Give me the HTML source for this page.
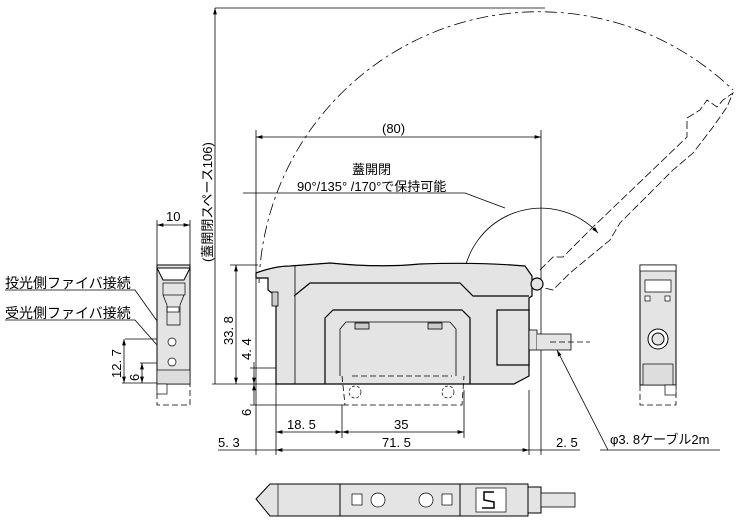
<!DOCTYPE html>
<html><head><meta charset="utf-8"><style>
html,body{margin:0;padding:0;background:#fff}
svg{display:block}
text{font-family:"Liberation Sans","Noto Sans CJK JP",sans-serif;fill:#000}
</style></head><body>
<svg width="743" height="525" viewBox="0 0 743 525" xmlns="http://www.w3.org/2000/svg">
<defs>
<marker id="a" viewBox="0 0 10 6" refX="10" refY="3" markerWidth="8" markerHeight="5" orient="auto-start-reverse"><path d="M0,0L10,3L0,6z" fill="#000"/></marker>
</defs>
<g fill="none" stroke="#000" stroke-width="0.8">
<path d="M259,283 A280,280 0 0 1 733,90" stroke-dasharray="12,4,3,4"/>
<path d="M540,270 L553,257 L563,257 L592,228 L687,137 L687,118 L700,110 L707,100 L717,107 L723,100 L733,93 L727,107 L713,127 L693,153 L673,170 L643,200 L620,223 L610,240 L570,273 L553,290 L540,287" stroke-dasharray="8,3"/>
<path d="M463,283 A78,78 0 0 1 598,233" marker-start="url(#a)" marker-end="url(#a)"/>
<path d="M243,193 L465,193 L505,208"/>
<line x1="215" y1="8" x2="545" y2="8"/>
<line x1="215" y1="8" x2="215" y2="384" marker-start="url(#a)"/>
<line x1="256" y1="137" x2="541" y2="137" marker-start="url(#a)" marker-end="url(#a)"/>
<line x1="256" y1="130" x2="256" y2="455"/>
<line x1="541" y1="130" x2="541" y2="455"/>
<line x1="236" y1="265" x2="236" y2="384" marker-start="url(#a)" marker-end="url(#a)"/>
<line x1="230" y1="265" x2="258" y2="265"/>
<line x1="212" y1="384" x2="276" y2="384"/>
<line x1="254" y1="362" x2="254" y2="384" marker-end="url(#a)"/>
<line x1="254" y1="384" x2="254" y2="405" marker-start="url(#a)"/>
<line x1="250" y1="368" x2="335" y2="368"/>
<line x1="250" y1="405" x2="345" y2="405"/>
<line x1="276" y1="384" x2="276" y2="455"/>
<line x1="342" y1="405" x2="342" y2="438"/>
<line x1="464" y1="390" x2="464" y2="438"/>
<line x1="529" y1="390" x2="529" y2="455"/>
<line x1="276" y1="432" x2="342" y2="432" marker-start="url(#a)" marker-end="url(#a)"/>
<line x1="342" y1="432" x2="464" y2="432" marker-start="url(#a)" marker-end="url(#a)"/>
<line x1="276" y1="450" x2="529" y2="450" marker-start="url(#a)" marker-end="url(#a)"/>
<line x1="218" y1="450" x2="276" y2="450"/>
<line x1="529" y1="450" x2="580" y2="450"/>
<line x1="600" y1="450" x2="720" y2="450"/>
<line x1="608" y1="450" x2="557" y2="350" marker-end="url(#a)"/>
<line x1="157" y1="225" x2="190" y2="225" marker-start="url(#a)" marker-end="url(#a)"/>
<line x1="157" y1="220" x2="157" y2="265"/><line x1="190" y1="220" x2="190" y2="265"/>
<line x1="125" y1="339" x2="170" y2="339"/><line x1="140" y1="363" x2="170" y2="363"/>
<line x1="122" y1="383" x2="157" y2="383"/>
<line x1="124" y1="339" x2="124" y2="383" marker-start="url(#a)" marker-end="url(#a)"/>
<line x1="142" y1="363" x2="142" y2="383" marker-start="url(#a)" marker-end="url(#a)"/>
<path d="M5,290 L135,290 L172,342"/>
<path d="M5,320 L135,320 L172,362"/>
</g>
<g stroke="#000" stroke-width="1.2">
<path d="M256,278 L256,273 Q275,266 290,266 L330,263 Q380,268 420,264 Q480,262 525,266 L532,276 L532,296 L529,298 L529,376 L514,384 L276,384 L276,296 L268,290 L268,278 Z" fill="#e4e4e4"/>
<path d="M294,296 L310,283 L460,283 L473,296 L529,296" fill="none"/>
<path d="M325,384 L325,318 L333,310 L462,310 L470,318 L470,384" fill="none"/>
<path d="M340,376 L340,329 L346,322 L450,322 L456,329 L456,376" fill="none" stroke-width="0.8"/>
<rect x="355" y="323" width="14" height="6" fill="#ccc" stroke-width="0.8"/>
<rect x="428" y="323" width="14" height="6" fill="#ccc" stroke-width="0.8"/>
<rect x="497" y="310" width="32" height="55" fill="#e4e4e4"/>
<rect x="529" y="330" width="8" height="20" fill="#e4e4e4" stroke-width="0.8"/>
<path d="M537,334 L571,334 L571,350 L537,350" fill="#e4e4e4" stroke-width="0.8"/>
<line x1="295" y1="266" x2="295" y2="384" stroke-width="0.8"/>
<rect x="272" y="292" width="6" height="14" fill="#ccc" stroke-width="0.8"/>
<circle cx="537" cy="284" r="6" fill="#e4e4e4"/>
</g>
<g fill="none" stroke="#000" stroke-width="0.8" stroke-dasharray="6,3">
<path d="M342,376 L345,405 L462,405 L464,376"/>
<line x1="352" y1="376" x2="452" y2="376"/>
<path d="M157,384 L157,405 L190,405 L190,384"/>
<path d="M640,385 L640,405 L676,405 L676,385"/>
<line x1="550" y1="342" x2="590" y2="342"/>
</g>
<circle cx="355" cy="392" r="6" fill="none" stroke="#000" stroke-width="0.7" stroke-dasharray="3,2"/>
<circle cx="448" cy="392" r="6" fill="none" stroke="#000" stroke-width="0.7" stroke-dasharray="3,2"/>
<g stroke="#000" stroke-width="1">
<rect x="157" y="265" width="33" height="119" fill="#e4e4e4"/>
<path d="M157,268 L190,268 L184,280 L163,280 Z" fill="#fff"/>
<rect x="163" y="283" width="22" height="12" fill="none" stroke-width="0.7"/>
<rect x="167" y="307" width="12" height="5" fill="#fff" stroke-width="0.7"/>
<path d="M163,295 L167,305 L167,325 L180,325 L180,305 L184,295" fill="none" stroke-width="0.7"/>
<circle cx="172" cy="342" r="4" fill="#fff" stroke-width="0.7"/>
<circle cx="172" cy="362" r="4" fill="#fff" stroke-width="0.7"/>
<rect x="157" y="370" width="33" height="14" fill="#ddd" stroke-width="0.7"/>
<rect x="157" y="384" width="10" height="10" fill="#fff" stroke-width="0.7"/>
</g>
<g stroke="#000" stroke-width="1">
<rect x="640" y="265" width="36" height="120" fill="#e4e4e4"/>
<rect x="640" y="265" width="36" height="6" fill="#fff" stroke-width="0.7"/>
<path d="M645,280 L671,280 L671,292 L645,292 Z" fill="#fff" stroke-width="0.7"/>
<rect x="645" y="296" width="5" height="5" fill="#fff" stroke-width="0.7"/>
<rect x="665" y="296" width="5" height="5" fill="#fff" stroke-width="0.7"/>
<circle cx="658" cy="339" r="10" fill="#fff"/>
<circle cx="658" cy="339" r="6" fill="#e4e4e4"/>
<rect x="643" y="364" width="30" height="21" fill="#ddd" stroke-width="0.7"/>
<rect x="665" y="385" width="11" height="10" fill="#fff" stroke-width="0.7"/>
</g>
<g stroke="#000" stroke-width="1">
<path d="M256,499 L270,484 L340,484 L340,516 L270,516 Z" fill="#e4e4e4"/>
<rect x="340" y="484" width="120" height="32" fill="#e4e4e4"/>
<rect x="460" y="484" width="68" height="32" fill="#e4e4e4"/>
<rect x="528" y="487" width="13" height="26" fill="#e4e4e4"/>
<rect x="541" y="493" width="34" height="14" fill="#e4e4e4" stroke-width="0.8"/>
<circle cx="378" cy="500" r="7" fill="#fff" stroke-width="0.7"/>
<circle cx="426" cy="500" r="7" fill="#fff" stroke-width="0.7"/>
<rect x="352" y="494" width="10" height="11" fill="#fff" stroke-width="0.7"/>
<rect x="442" y="494" width="10" height="11" fill="#fff" stroke-width="0.7"/>
<rect x="476" y="488" width="30" height="24" fill="#fff" stroke-width="0.7"/>
<path d="M494,492 L484,492 L484,500 L494,502 L494,508 L482,508" fill="none" stroke-width="1.5"/>
<line x1="278" y1="484" x2="278" y2="516" stroke-width="0.7"/>
</g>
<g font-size="13">
<text x="166" y="221">10</text>
<text x="382" y="133">(80)</text>
<text x="352" y="174">蓋開閉</text>
<text x="297" y="191">90°/135° /170°で保持可能</text>
<text x="5" y="288" font-size="14">投光側ファイバ接続</text>
<text x="5" y="318" font-size="14">受光側ファイバ接続</text>
<text x="287" y="429">18. 5</text>
<text x="394" y="429">35</text>
<text x="382" y="447">71. 5</text>
<text x="218" y="447">5. 3</text>
<text x="556" y="447">2. 5</text>
<text x="610" y="444">φ3. 8ケーブル2m</text>
<text transform="translate(233,345) rotate(-90)">33. 8</text>
<text transform="translate(251,360) rotate(-90)">4. 4</text>
<text transform="translate(251,416) rotate(-90)">6</text>
<text transform="translate(121,378) rotate(-90)">12. 7</text>
<text transform="translate(139,381) rotate(-90)">6</text>
<text transform="translate(212,262) rotate(-90)">(蓋開閉スペース106)</text>
</g>
</svg>
</body></html>
